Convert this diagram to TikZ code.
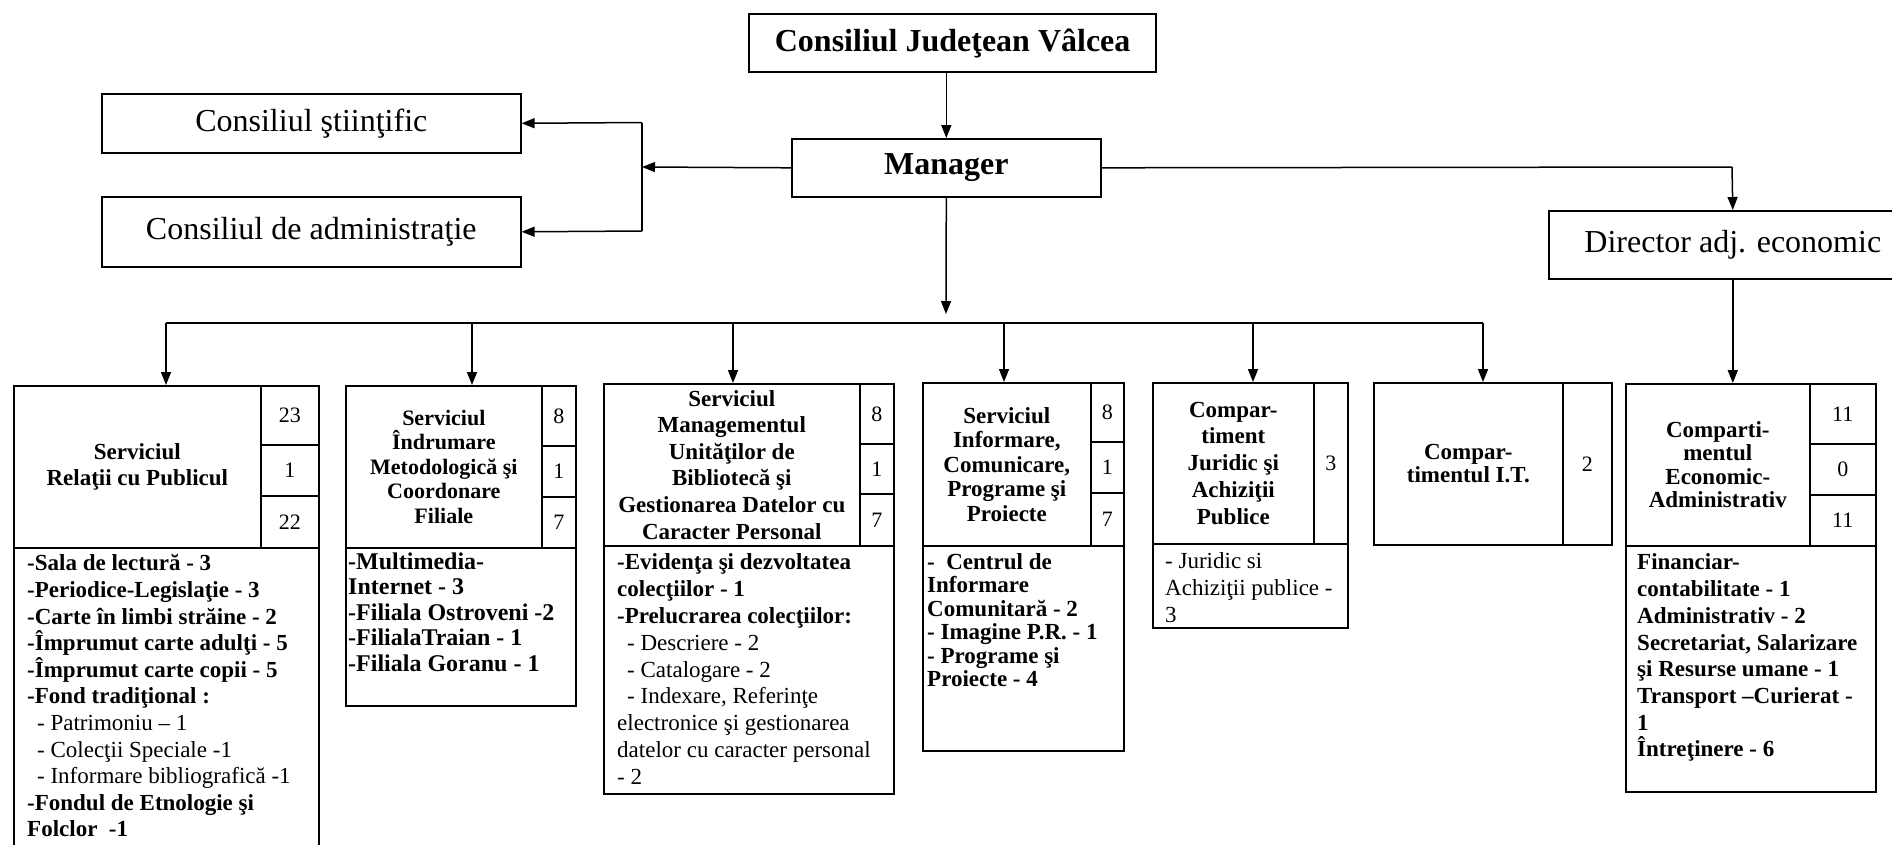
\documentclass[tikz,border=0pt]{standalone}
\usepackage{fontspec}
\setmainfont{Liberation Serif}
\usetikzlibrary{arrows.meta}
\begin{document}
\begin{tikzpicture}[x=1pt,y=-1pt,
  box/.style={draw, line width=1.6pt, inner sep=0pt, anchor=north west},
  conn/.style={line width=1.5pt},
  arr/.style={conn, -{Triangle[length=13pt,width=10pt]}},
  hd/.style={box, align=center, font=\fontsize{23}{26.6}\selectfont\bfseries},
  num/.style={box, font=\fontsize{22}{26}\selectfont},
  bt/.style={anchor=north west, inner sep=0pt, align=left},
  big/.style={box, font=\fontsize{32}{38}\selectfont}]
\useasboundingbox (0,0) rectangle (1892,844);

% ---- top level ----
\node[big, line width=2.3pt, minimum width=407pt, minimum height=58pt, font=\fontsize{32}{38}\selectfont\bfseries] (cjv) at (748,13) {Consiliul Judeţean Vâlcea};
\node[big, minimum width=309pt, minimum height=58pt, font=\fontsize{32}{38}\selectfont\bfseries] (mgr) at (791,138) {Manager};
\node[big, minimum width=419pt, minimum height=59pt] (cs) at (101,93) {Consiliul ştiinţific};
\node[big, minimum width=419pt, minimum height=70pt] (ca) at (101,196) {Consiliul de administraţie};
\node[big, minimum width=368pt, minimum height=68pt] (dir) at (1548,210) {Director adj. economic};

% ---- box 1 ----
\node[hd, minimum width=247pt, minimum height=162pt, font=\fontsize{23}{26}\selectfont\bfseries] (h1) at (13,385) {Serviciul\\Relaţii cu Publicul};
\node[num, minimum width=58pt, minimum height=59pt] (n1a) at (260,385) {23};
\node[num, minimum width=58pt, minimum height=51pt] (n1b) at (260,444) {1};
\node[num, minimum width=58pt, minimum height=52pt] (n1c) at (260,495) {22};
\node[box, minimum width=305pt, minimum height=330pt] (b1) at (13,547) {};
\node[bt, font=\fontsize{23}{26.6}\selectfont] (t1) at (27,552) {\strut\textbf{-Sala de lectură - 3}\\
\textbf{-Periodice-Legislaţie - 3}\\
\textbf{-Carte în limbi străine - 2}\\
\textbf{-Împrumut carte adulţi - 5}\\
\textbf{-Împrumut carte copii - 5}\\
\textbf{-Fond tradiţional :}\\
\hspace*{10pt}- Patrimoniu – 1\\
\hspace*{10pt}- Colecţii Speciale -1\\
\hspace*{10pt}- Informare bibliografică -1\\
\textbf{-Fondul de Etnologie şi}\\
\textbf{Folclor~ -1}};

% ---- box 2 ----
\node[hd, minimum width=196pt, minimum height=162pt, font=\fontsize{22}{24.5}\selectfont\bfseries] (h2) at (345,385) {Serviciul\\Îndrumare\\Metodologică şi\\Coordonare\\Filiale};
\node[num, minimum width=34pt, minimum height=60pt] (n2a) at (541,385) {8};
\node[num, minimum width=34pt, minimum height=51pt] (n2b) at (541,445) {1};
\node[num, minimum width=34pt, minimum height=51pt] (n2c) at (541,496) {7};
\node[box, minimum width=230pt, minimum height=158pt] (b2) at (345,547) {};
\node[bt, font=\fontsize{24}{25.5}\selectfont] (t2) at (348,551) {\strut\textbf{-Multimedia-}\\
\textbf{Internet - 3}\\
\textbf{-Filiala Ostroveni -2}\\
\textbf{-FilialaTraian - 1}\\
\textbf{-Filiala Goranu - 1}};

% ---- box 3 ----
\node[hd, minimum width=256pt, minimum height=162pt] (h3) at (603,383) {Serviciul\\Managementul\\Unităţilor de\\Bibliotecă şi\\Gestionarea Datelor cu\\Caracter Personal};
\node[num, minimum width=34pt, minimum height=60pt] (n3a) at (859,383) {8};
\node[num, minimum width=34pt, minimum height=50pt] (n3b) at (859,443) {1};
\node[num, minimum width=34pt, minimum height=52pt] (n3c) at (859,493) {7};
\node[box, minimum width=290pt, minimum height=248pt] (b3) at (603,545) {};
\node[bt, font=\fontsize{23}{26.8}\selectfont] (t3) at (617,551) {\strut\textbf{-Evidenţa şi dezvoltatea}\\
\textbf{colecţiilor - 1}\\
\textbf{-Prelucrarea colecţiilor:}\\
\hspace*{10pt}- Descriere - 2\\
\hspace*{10pt}- Catalogare - 2\\
\hspace*{10pt}- Indexare, Referinţe\\
electronice şi gestionarea\\
datelor cu caracter personal\\
- 2};

% ---- box 4 ----
\node[hd, minimum width=168pt, minimum height=163pt, font=\fontsize{23}{24.5}\selectfont\bfseries] (h4) at (922,382) {Serviciul\\Informare,\\Comunicare,\\Programe şi\\Proiecte};
\node[num, minimum width=33pt, minimum height=59pt] (n4a) at (1090,382) {8};
\node[num, minimum width=33pt, minimum height=51pt] (n4b) at (1090,441) {1};
\node[num, minimum width=33pt, minimum height=53pt] (n4c) at (1090,492) {7};
\node[box, minimum width=201pt, minimum height=205pt] (b4) at (922,545) {};
\node[bt, font=\fontsize{23}{23.4}\selectfont] (t4) at (927,553) {\strut\textbf{-~ Centrul de}\\
\textbf{Informare}\\
\textbf{Comunitară - 2}\\
\textbf{- Imagine P.R. - 1}\\
\textbf{- Programe şi}\\
\textbf{Proiecte - 4}};

% ---- box 5 ----
\node[hd, minimum width=161pt, minimum height=161pt, font=\fontsize{23}{26.8}\selectfont\bfseries] (h5) at (1152,382) {Compar-\\timent\\Juridic şi\\Achiziţii\\Publice};
\node[num, minimum width=34pt, minimum height=161pt] (n5) at (1313,382) {3};
\node[box, minimum width=195pt, minimum height=84pt] (b5) at (1152,543) {};
\node[bt, font=\fontsize{23}{26.7}\selectfont] (t5) at (1165,550) {\strut- Juridic si\\
Achiziţii publice -\\
3};

% ---- box 6 ----
\node[hd, minimum width=189pt, minimum height=162pt, font=\fontsize{23}{23}\selectfont\bfseries] (h6) at (1373,382) {Compar-\\timentul I.T.};
\node[num, minimum width=49pt, minimum height=162pt] (n6) at (1562,382) {2};

% ---- box 7 ----
\node[hd, minimum width=184pt, minimum height=162pt, font=\fontsize{23}{23.4}\selectfont\bfseries] (h7) at (1625,383) {Comparti-\\mentul\\Economic-\\Administrativ};
\node[num, minimum width=66pt, minimum height=60pt] (n7a) at (1809,383) {11};
\node[num, minimum width=66pt, minimum height=51pt] (n7b) at (1809,443) {0};
\node[num, minimum width=66pt, minimum height=51pt] (n7c) at (1809,494) {11};
\node[box, minimum width=250pt, minimum height=246pt] (b7) at (1625,545) {};
\node[bt, font=\fontsize{23}{26.7}\selectfont] (t7) at (1637,551) {\strut\textbf{Financiar-}\\
\textbf{contabilitate - 1}\\
\textbf{Administrativ - 2}\\
\textbf{Secretariat, Salarizare}\\
\textbf{şi Resurse umane - 1}\\
\textbf{Transport –Curierat -}\\
\textbf{1}\\
\textbf{Întreţinere - 6}};

% ---- connectors ----
\draw[arr] (cjv.south -| mgr.north) -- (mgr.north);
\coordinate (lt) at (642,122.5);
\coordinate (lm) at (642,167);
\coordinate (lb) at (642,231);
\draw[arr] (mgr.west) -- (lm);
\draw[conn] (lt) -- (lb);
\draw[arr] (lt) -- (cs.east);
\draw[arr] (lb) -- (ca.east);

\coordinate (rc) at (1732,167);
\draw[conn] (mgr.east) -- (rc);
\draw[arr] (rc) -- (dir.north);
\draw[arr] (dir.south) -- (dir.south |- h7.north);

\coordinate (mtip) at (946,314);
\draw[arr] (mgr.south) -- (mtip);
\coordinate (d1) at (166,323);
\coordinate (d2) at (472,323);
\coordinate (d3) at (733,323);
\coordinate (d4) at (1004,323);
\coordinate (d5) at (1253,323);
\coordinate (d6) at (1483,323);
\draw[conn] (d1) -- (d6);
\draw[arr] (d1) -- (d1 |- h1.north);
\draw[arr] (d2) -- (d2 |- h2.north);
\draw[arr] (d3) -- (d3 |- h3.north);
\draw[arr] (d4) -- (d4 |- h4.north);
\draw[arr] (d5) -- (d5 |- h5.north);
\draw[arr] (d6) -- (d6 |- h6.north);
\end{tikzpicture}
\end{document}
